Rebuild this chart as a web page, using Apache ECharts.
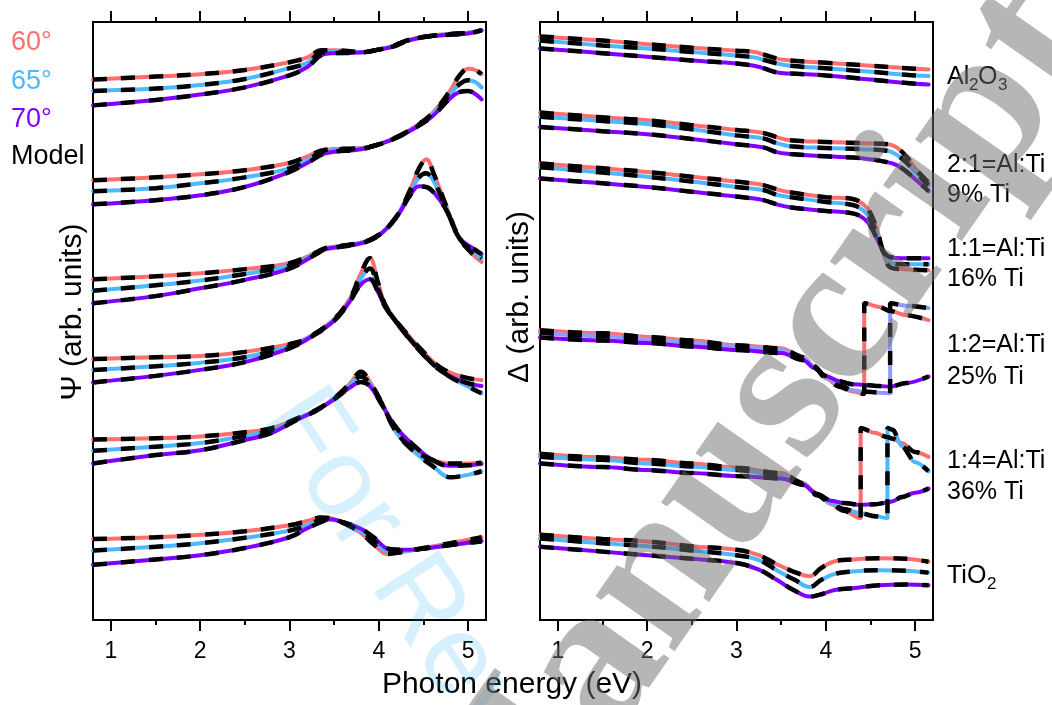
<!DOCTYPE html>
<html>
<head>
<meta charset="utf-8">
<script src="https://cdn.jsdelivr.net/npm/echarts@6/dist/echarts.min.js"></script>
<style>
html, body { margin: 0; padding: 0; background: #fff; }
#chart { width: 1052px; height: 705px; }
</style>
</head>
<body>
<div id="chart"></div>
<script>
// ---------- Psi spectra (arb. units, offset per sample) ----------
const psiAl2O3Energy = [0.8,1.5,2.0,2.5,3.0,3.2,3.36,3.5,3.8,4.0,4.16,4.31,4.5,4.72,5.0,5.15];
const psiAl2O3At60 = [90.1,90.6,91.0,91.7,93.0,93.8,95.0,95.0,94.7,95.1,95.7,96.6,97.2,97.6,97.9,98.3];
const psiAl2O3At65 = [88.2,88.6,89.2,90.2,92.0,92.9,94.6,94.7,94.7,95.1,95.7,96.6,97.2,97.6,97.9,98.3];
const psiAl2O3At70 = [85.8,86.7,87.6,88.8,90.8,92.2,94.2,94.5,94.6,95.1,95.6,96.5,97.2,97.5,97.8,98.3];

const psiAlTi21Energy = [0.8,1.5,2.0,2.5,3.0,3.2,3.4,3.8,4.0,4.2,4.4,4.6,4.8,4.9,5.0,5.08,5.15];
const psiAlTi21At60 = [73.3,73.8,74.3,75.0,76.2,77.3,78.4,78.7,79.3,80.5,82.2,84.5,88.3,90.7,91.9,91.7,91.0];
const psiAlTi21At65 = [71.5,72.0,72.8,73.8,75.3,76.7,78.2,78.6,79.3,80.5,82.1,84.3,87.7,89.3,90.0,89.7,88.8];
const psiAlTi21At70 = [69.3,70.0,70.8,72.2,74.7,76.2,77.8,78.5,79.3,80.4,82.0,84.0,87.0,88.0,88.2,87.7,86.8];

const psiAlTi11Energy = [0.8,1.5,2.0,2.5,3.0,3.3,3.4,3.8,4.0,4.2,4.35,4.45,4.53,4.62,4.75,4.9,5.05,5.15];
const psiAlTi11At60 = [56.8,57.3,57.8,58.5,59.5,61.3,62.0,62.9,64.2,67.3,71.7,75.3,76.8,74.2,69.2,63.7,61.0,59.7];
const psiAlTi11At65 = [54.9,55.8,56.6,57.7,59.1,61.2,61.9,62.9,64.2,67.3,71.3,73.8,74.5,73.0,68.8,63.7,61.5,60.3];
const psiAlTi11At70 = [52.8,54.0,55.3,56.7,58.6,61.0,61.8,62.8,64.1,67.2,70.8,72.3,72.2,71.2,68.5,63.7,62.0,61.0];

const psiAlTi12Energy = [0.8,1.5,2.0,2.5,3.0,3.2,3.5,3.68,3.79,3.9,3.99,4.08,4.27,4.5,4.7,4.95,5.15];
const psiAlTi12At60 = [43.5,43.8,44.0,44.7,46.0,47.0,50.2,53.7,57.5,60.3,56.3,52.3,48.5,44.7,42.0,40.5,40.0];
const psiAlTi12At65 = [41.7,42.3,42.9,43.8,45.6,47.0,50.0,53.3,56.7,58.6,55.3,52.2,48.3,44.3,41.5,39.3,37.8];
const psiAlTi12At70 = [39.6,40.7,41.7,43.0,45.3,46.8,49.9,53.2,55.8,56.8,54.7,52.0,48.2,44.2,41.5,39.7,39.0];

const psiAlTi14Energy = [0.8,1.5,2.0,2.5,2.8,3.1,3.3,3.5,3.68,3.8,3.9,4.03,4.2,4.4,4.6,4.8,5.0,5.15];
const psiAlTi14At60 = [30.1,30.3,30.6,31.3,32.0,33.7,35.0,37.0,39.5,41.4,39.7,36.3,31.3,28.3,26.7,26.1,26.1,26.2];
const psiAlTi14At65 = [28.2,28.9,29.5,30.7,31.6,33.6,35.0,36.9,39.2,40.6,39.3,36.2,31.2,28.0,25.7,23.8,24.2,24.8];
const psiAlTi14At70 = [26.1,27.5,28.3,30.0,31.2,33.5,34.9,36.8,38.8,39.7,39.0,36.0,32.0,29.0,26.7,25.7,25.8,26.0];

const psiTiO2Energy = [0.8,1.5,2.0,2.5,3.0,3.2,3.35,3.45,3.6,3.8,3.95,4.1,4.25,4.5,4.8,5.15];
const psiTiO2At60 = [13.5,13.8,14.2,14.8,15.8,16.5,17.1,17.0,16.2,14.5,12.5,11.0,11.3,12.0,12.8,13.8];
const psiTiO2At65 = [11.6,12.2,12.8,13.7,14.9,15.8,16.7,16.8,16.2,14.8,13.2,11.5,11.5,11.9,12.5,13.1];
const psiTiO2At70 = [9.2,10.1,10.8,12.0,13.8,15.3,16.3,16.8,16.3,15.2,13.7,11.9,11.7,11.9,12.5,13.2];

// ---------- Delta spectra (arb. units, offset per sample) ----------
const delAl2O3Energy = [0.8,1.5,2.0,2.5,3.0,3.2,3.3,3.45,3.6,4.0,4.5,5.0,5.15];
const delAl2O3At60 = [97.3,96.6,96.0,95.4,94.9,94.7,94.3,93.6,93.3,92.9,92.4,91.9,91.8];
const delAl2O3At65 = [96.6,95.8,95.3,94.7,94.1,93.8,93.4,92.8,92.4,92.0,91.4,90.8,90.7];
const delAl2O3At70 = [95.3,94.5,93.9,93.3,92.8,92.4,92.0,91.3,91.1,90.8,90.1,89.4,89.3];

const delAlTi21Energy = [0.8,1.5,2.0,2.5,3.0,3.3,3.45,3.6,4.0,4.4,4.7,4.8,4.9,5.0,5.1,5.15];
const delAlTi21At60 = [84.6,83.8,83.3,82.5,81.7,81.2,80.5,80.0,79.7,79.5,79.3,78.7,77.3,75.3,73.7,73.0];
const delAlTi21At65 = [83.9,83.2,82.7,81.8,80.8,80.3,79.5,79.0,78.7,78.5,78.2,77.5,76.3,74.7,73.2,72.5];
const delAlTi21At70 = [82.2,81.5,81.0,80.2,79.3,78.8,78.0,77.7,77.3,77.0,76.3,75.8,74.8,73.5,72.2,71.5];

const delAlTi11Energy = [0.8,1.5,2.0,2.5,3.0,3.3,3.45,3.6,4.0,4.3,4.42,4.5,4.58,4.65,4.72,4.85,5.15];
const delAlTi11At60 = [76.1,75.3,74.7,73.9,73.1,72.5,71.8,71.3,70.5,70.2,69.3,67.8,64.7,61.0,58.8,58.5,58.3];
const delAlTi11At65 = [75.5,74.6,73.9,73.1,72.2,71.7,70.9,70.5,69.7,69.2,68.3,66.8,64.0,61.2,59.7,59.3,59.3];
const delAlTi11At70 = [73.6,72.8,72.2,71.4,70.6,70.0,69.3,68.8,68.2,67.8,67.0,65.7,63.3,61.3,60.5,60.3,60.3];

// repeated energies mark where Delta wraps around
const delAlTi12Energy = [0.8,1.5,2.0,2.5,3.0,3.5,3.75,3.87,4.0,4.15,4.3,4.43,4.43,4.6,4.72,4.72,4.9,5.15];
const delAlTi12At60 = [48.3,47.8,47.2,46.6,45.8,45.3,43.8,42.2,40.3,38.9,38.1,37.7,52.8,52.2,51.5,51.5,50.8,50.0];
const delAlTi12At65 = [47.9,47.3,46.8,46.2,45.6,45.0,43.8,42.3,40.5,39.1,38.3,38.1,38.1,37.9,37.8,52.8,52.4,52.0];
const delAlTi12At70 = [47.1,46.6,46.2,45.6,45.0,44.5,43.3,42.0,40.7,39.8,39.3,39.2,39.2,39.0,38.9,38.9,39.5,40.6];

const delAlTi14Energy = [0.8,1.5,2.0,2.5,3.0,3.5,3.75,3.9,4.06,4.2,4.39,4.39,4.55,4.69,4.69,4.75,4.85,5.0,5.15];
const delAlTi14At60 = [27.7,27.1,26.7,26.1,25.4,24.5,22.8,21.0,19.3,18.2,17.0,32.0,31.2,30.5,30.5,30.2,29.5,28.0,27.2];
const delAlTi14At65 = [27.2,26.7,26.1,25.6,25.0,24.1,22.7,20.8,19.5,18.5,17.8,17.8,17.3,17.0,32.0,31.7,29.0,26.3,24.8];
const delAlTi14At70 = [26.1,25.5,25.0,24.5,24.0,23.6,22.5,21.0,19.9,19.5,19.2,19.2,19.3,19.6,19.6,19.8,20.5,21.2,21.9];

const delTiO2Energy = [0.8,1.5,2.0,2.5,3.0,3.25,3.45,3.65,3.82,3.95,4.1,4.3,4.6,4.9,5.15];
const delTiO2At60 = [14.2,13.5,13.1,12.3,11.7,10.8,9.3,8.0,7.3,8.7,9.8,10.1,10.3,10.2,9.7];
const delTiO2At65 = [13.6,12.8,12.3,11.6,10.8,10.0,8.3,6.7,5.5,6.7,7.7,8.1,8.3,8.2,7.9];
const delTiO2At70 = [12.2,11.4,10.8,10.2,9.5,8.4,6.7,4.9,3.9,4.3,5.0,5.3,5.8,5.9,5.8];

// ---------- labels ----------
const angleLabels = ['60°', '65°', '70°'];
const modelLabel = 'Model';
const majorTicks = [1, 2, 3, 4, 5];
const minorTicks = [1.5, 2.5, 3.5, 4.5];
const sampleLabels = [
  ['2:1=Al:Ti', '9% Ti'],
  ['1:1=Al:Ti', '16% Ti'],
  ['1:2=Al:Ti', '25% Ti'],
  ['1:4=Al:Ti', '36% Ti']
];

// ---------- styling ----------
const RED = '#ff6e6e', BLUE = '#4db8ff', PURPLE = '#8000ff', PERIWINKLE = '#8f9bff';
const FONT = '"Liberation Sans", Arial, Helvetica, sans-serif';

const psiGroups = [
  [psiAl2O3Energy, psiAl2O3At60, psiAl2O3At65, psiAl2O3At70],
  [psiAlTi21Energy, psiAlTi21At60, psiAlTi21At65, psiAlTi21At70],
  [psiAlTi11Energy, psiAlTi11At60, psiAlTi11At65, psiAlTi11At70],
  [psiAlTi12Energy, psiAlTi12At60, psiAlTi12At65, psiAlTi12At70],
  [psiAlTi14Energy, psiAlTi14At60, psiAlTi14At65, psiAlTi14At70],
  [psiTiO2Energy, psiTiO2At60, psiTiO2At65, psiTiO2At70]
];
const delGroups = [
  [delAl2O3Energy, delAl2O3At60, delAl2O3At65, delAl2O3At70],
  [delAlTi21Energy, delAlTi21At60, delAlTi21At65, delAlTi21At70],
  [delAlTi11Energy, delAlTi11At60, delAlTi11At65, delAlTi11At70],
  [delAlTi12Energy, delAlTi12At60, delAlTi12At65, delAlTi12At70, PERIWINKLE],
  [delAlTi14Energy, delAlTi14At60, delAlTi14At65, delAlTi14At70],
  [delTiO2Energy, delTiO2At60, delTiO2At65, delTiO2At70]
];

function pairs(xs, ys) { return xs.map((x, i) => [x, ys[i]]); }

function hasRepeat(xs) { return xs.some((x, i) => i > 0 && x === xs[i - 1]); }

function curve(panel, xs, ys, color, dashed) {
  const s = {
    type: 'line',
    xAxisIndex: panel * 4,
    yAxisIndex: panel,
    data: pairs(xs, ys),
    symbol: 'none',
    smooth: 0.4,
    silent: true,
    z: dashed ? 4 : 3,
    lineStyle: dashed
      ? { color: '#000', width: 4.5, type: [14, 14], cap: 'butt' }
      : { color: color, width: 4, cap: 'round', join: 'round' }
  };
  if (hasRepeat(xs)) { s.smooth = 0.3; s.smoothMonotone = 'x'; }
  return s;
}

const series = [];
[psiGroups, delGroups].forEach((groups, panel) => {
  groups.forEach(g => {
    const [xs, a60, a65, a70, mid] = g;
    series.push(curve(panel, xs, a60, RED, false));
    series.push(curve(panel, xs, a65, mid || BLUE, false));
    series.push(curve(panel, xs, a70, PURPLE, false));
  });
  // model fits drawn dashed over the measured curves
  groups.forEach(g => {
    const [xs, a60, a65, a70] = g;
    series.push(curve(panel, xs, a60, '#000', true));
    series.push(curve(panel, xs, a65, '#000', true));
    series.push(curve(panel, xs, a70, '#000', true));
  });
});

function xAxes(grid) {
  const base = {
    type: 'value', gridIndex: grid, min: 0.8, max: 5.2,
    axisLine: { show: false }, splitLine: { show: false }
  };
  const tick = (vals, len) => ({ show: true, customValues: vals, length: len, inside: false,
    lineStyle: { color: '#000', width: 2 } });
  return [
    Object.assign({}, base, { position: 'bottom', axisTick: tick(majorTicks, 11),
      axisLabel: { show: true, customValues: majorTicks, fontSize: 23, fontFamily: FONT, color: '#000', margin: 20 } }),
    Object.assign({}, base, { position: 'bottom', axisTick: tick(minorTicks, 5), axisLabel: { show: false } }),
    Object.assign({}, base, { position: 'top', axisTick: tick(majorTicks, 11), axisLabel: { show: false } }),
    Object.assign({}, base, { position: 'top', axisTick: tick(minorTicks, 5), axisLabel: { show: false } })
  ];
}

function yAxis(grid) {
  return { type: 'value', gridIndex: grid, min: 0, max: 99.7, show: false,
    axisLine: { show: false }, axisTick: { show: false }, axisLabel: { show: false }, splitLine: { show: false } };
}

function txt(text, x, y, opts) {
  return Object.assign({
    type: 'text', x: x, y: y, z: 50, silent: true,
    style: Object.assign({ text: text, fontSize: 25, fontFamily: FONT, fill: '#000',
      align: 'left', verticalAlign: 'middle' }, (opts && opts.style) || {})
  }, opts && opts.rotation !== undefined ? { rotation: opts.rotation } : {});
}

const graphics = [
  // angle legend
  txt(angleLabels[0], 11, 43, { style: { fontSize: 27, fill: RED } }),
  txt(angleLabels[1], 11, 82, { style: { fontSize: 27, fill: BLUE } }),
  txt(angleLabels[2], 11, 120, { style: { fontSize: 27, fill: PURPLE } }),
  txt(modelLabel, 11, 157, { style: { fontSize: 27 } }),
  // axis titles
  txt('Ψ (arb. units)', 73, 312, { rotation: Math.PI / 2, style: { fontSize: 30, align: 'center' } }),
  txt('Δ (arb. units)', 520, 297, { rotation: Math.PI / 2, style: { fontSize: 30, align: 'center' } }),
  txt('Photon energy (eV)', 512, 685, { style: { fontSize: 30, align: 'center' } }),
  // sample names beside the Delta panel
  txt('Al', 947, 77),
  txt('2', 969, 85, { style: { fontSize: 17 } }),
  txt('O', 978, 77),
  txt('3', 998, 85, { style: { fontSize: 17 } }),
  txt(sampleLabels[0][0], 947, 165), txt(sampleLabels[0][1], 947, 195),
  txt(sampleLabels[1][0], 947, 249), txt(sampleLabels[1][1], 947, 279),
  txt(sampleLabels[2][0], 947, 345), txt(sampleLabels[2][1], 947, 377),
  txt(sampleLabels[3][0], 947, 461), txt(sampleLabels[3][1], 947, 492),
  txt('TiO', 947, 576),
  txt('2', 987, 584, { style: { fontSize: 17 } }),
  // overprinted stamps
  {
    type: 'text', x: 239, y: 432, rotation: -0.99, z: 100, silent: true,
    style: { text: 'For Review Only', fontSize: 112, fontFamily: FONT,
      fill: 'rgba(0,170,240,0.16)', align: 'left', verticalAlign: 'bottom' }
  },
  {
    type: 'text', x: 754, y: 443, rotation: 0.96, z: 100, silent: true,
    style: { text: 'Manuscript', fontSize: 210, fontWeight: 'bold',
      fontFamily: '"Liberation Serif", "Times New Roman", serif',
      fill: 'rgba(110,110,110,0.5)', align: 'center', verticalAlign: 'middle' }
  }
];

const chart = echarts.init(document.getElementById('chart'), null, { renderer: 'canvas' });
chart.setOption({
  animation: false,
  backgroundColor: '#fff',
  grid: [
    { left: 93, top: 22, width: 393, height: 598, show: true, borderColor: '#000', borderWidth: 2, backgroundColor: 'transparent' },
    { left: 540, top: 22, width: 393, height: 598, show: true, borderColor: '#000', borderWidth: 2, backgroundColor: 'transparent' }
  ],
  xAxis: xAxes(0).concat(xAxes(1)),
  yAxis: [yAxis(0), yAxis(1)],
  series: series,
  graphic: graphics
});
</script>
</body>
</html>
